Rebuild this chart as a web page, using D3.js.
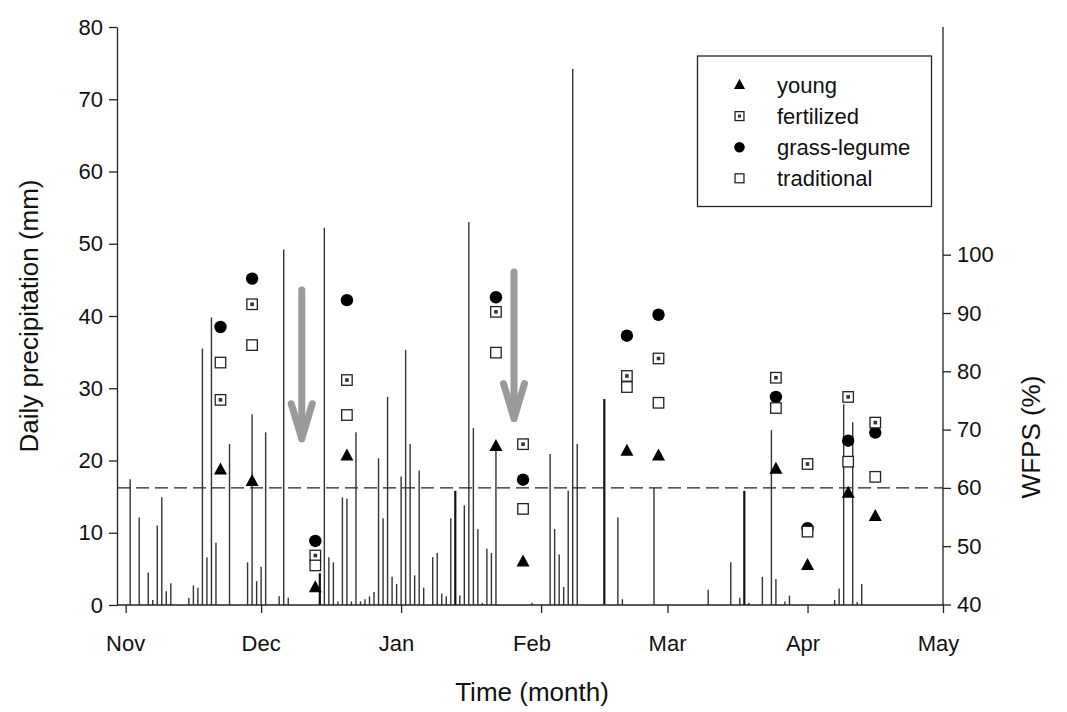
<!DOCTYPE html>
<html>
<head>
<meta charset="utf-8">
<script src="https://cdn.jsdelivr.net/npm/d3@7"></script>
<style>
body { margin: 0; background: #fff; }
text { font-family: Arial, "Liberation Sans", sans-serif; fill: #111; }
</style>
</head>
<body>
<div id="chart"></div>
<script>
// daily rain
var rainDates = ["2009-11-02","2009-11-04","2009-11-06","2009-11-07","2009-11-08","2009-11-09","2009-11-10","2009-11-11",
  "2009-11-15","2009-11-16","2009-11-17","2009-11-18","2009-11-19","2009-11-20","2009-11-21","2009-11-24","2009-11-28",
  "2009-11-29","2009-11-30","2009-12-01","2009-12-02","2009-12-05","2009-12-06","2009-12-07","2009-12-14","2009-12-15",
  "2009-12-16","2009-12-17","2009-12-18","2009-12-19","2009-12-20","2009-12-21","2009-12-22","2009-12-23","2009-12-24",
  "2009-12-25","2009-12-26","2009-12-27","2009-12-28","2009-12-29","2009-12-30","2009-12-31","2010-01-01","2010-01-02",
  "2010-01-03","2010-01-04","2010-01-05","2010-01-06","2010-01-08","2010-01-09","2010-01-10","2010-01-11","2010-01-12",
  "2010-01-13","2010-01-14","2010-01-15","2010-01-16","2010-01-17","2010-01-18","2010-01-19","2010-01-20","2010-01-21",
  "2010-01-22","2010-01-30","2010-02-03","2010-02-04","2010-02-05","2010-02-06","2010-02-07","2010-02-08","2010-02-09",
  "2010-02-15","2010-02-18","2010-02-19","2010-02-26","2010-03-10","2010-03-15","2010-03-17","2010-03-18","2010-03-19",
  "2010-03-22","2010-03-24","2010-03-25","2010-03-27","2010-03-28","2010-04-07","2010-04-08","2010-04-09","2010-04-11",
  "2010-04-12","2010-04-13"];
var rainMm = [17.4,12.1,4.5,0.7,11.0,14.9,1.9,3.0,
  1.0,2.7,2.4,35.5,6.6,39.8,8.6,22.3,5.9,
  26.4,3.3,5.3,23.9,1.2,49.2,1.0,4.4,52.2,
  6.6,5.9,0.5,14.9,14.7,0.5,23.9,0.5,0.8,
  1.2,1.8,20.3,12.0,28.8,3.9,2.9,17.8,35.3,
  22.3,4.1,18.6,2.4,6.6,7.2,1.6,1.2,12.0,
  15.8,1.3,13.8,53.0,24.5,10.5,0.3,7.8,7.2,
  21.5,0.3,20.9,10.5,7.0,2.5,15.8,74.2,22.3,
  28.5,12.1,0.8,16.2,2.1,5.9,1.0,15.8,0.3,
  3.9,24.2,3.6,0.5,1.3,0.7,2.3,27.8,25.3,
  0.4,2.9];
// these days print darker in the figure
var heavyDates = ["2009-12-14","2010-01-13","2010-02-15","2010-03-18"];

// WFPS sampling dates and values (%)
var sampleDates = ["2009-11-22","2009-11-29","2009-12-13","2009-12-20","2010-01-22","2010-01-28",
  "2010-02-20","2010-02-27","2010-03-25","2010-04-01","2010-04-10","2010-04-16"];
var young       = [63.1, 61.1, 42.9, 65.5, 67.1, 47.3, 66.3, 65.5, 63.2, 46.7, 59.1, 55.1];
var fertilized  = [75.1, 91.5, 48.4, 78.5, 90.2, 67.5, 79.2, 82.2, 78.9, 64.1, 75.6, 71.2];
var grassLegume = [87.6, 95.9, 50.9, 92.2, 92.7, 61.4, 86.1, 89.7, 75.6, 53.1, 68.1, 69.5];
var traditional = [81.5, 84.5, 46.7, 72.5, 83.2, 56.4, 77.3, 74.6, 73.7, 52.5, 64.5, 61.9];

var seriesNames = ["young", "fertilized", "grass-legume", "traditional"];
var monthDates = ["2009-11-01","2009-12-01","2010-01-01","2010-02-01","2010-03-01","2010-04-01","2010-05-01"];
// labels sit every 30 days from Nov 1, not on the month ticks
var labelDates = ["2009-11-01","2009-12-01","2009-12-31","2010-01-30","2010-03-01","2010-03-31","2010-04-30"];
var monthLabels = ["Nov","Dec","Jan","Feb","Mar","Apr","May"];
var rainTicks = [0,10,20,30,40,50,60,70,80];
var wfpsTicks = [40,50,60,70,80,90,100];
var wfpsLimit = 60;
// grey arrows (date, start mm, tip mm)
var arrowDates = ["2009-12-10","2010-01-26"];
var arrowFrom = [43.6, 46.1];
var arrowTo = [22.6, 25.4];

var parse = d3.utcParse("%Y-%m-%d");
var svgWidth = 1067, svgHeight = 712;
var plot = { left: 117, right: 943, top: 27, bottom: 605 };

var svg = d3.select("#chart").append("svg")
  .attr("width", svgWidth)
  .attr("height", svgHeight);

var x = d3.scaleUtc()
  .domain([new Date(Date.UTC(2009, 9, 30, 2)), parse("2010-05-01")])
  .range([plot.left, plot.right]);
var yRain = d3.scaleLinear().domain([0, 80]).range([plot.bottom, plot.top]);
var yWfps = d3.scaleLinear().domain([40, 100]).range([604.5, 254.7]);

// right frame line
svg.append("line")
  .attr("x1", plot.right).attr("x2", plot.right)
  .attr("y1", plot.top).attr("y2", plot.bottom)
  .attr("stroke", "#222").attr("stroke-width", 1.3);

// rain bars
svg.append("g").selectAll("line")
  .data(rainDates)
  .enter().append("line")
  .attr("x1", d => x(parse(d)))
  .attr("x2", d => x(parse(d)))
  .attr("y1", yRain(0))
  .attr("y2", (d, i) => yRain(rainMm[i]))
  .attr("stroke", d => heavyDates.includes(d) ? "#111" : "#333")
  .attr("stroke-width", d => heavyDates.includes(d) ? 2.2 : 1.4);

// 60 % WFPS line
svg.append("line")
  .attr("x1", plot.left).attr("x2", plot.right)
  .attr("y1", yWfps(wfpsLimit)).attr("y2", yWfps(wfpsLimit))
  .attr("stroke", "#222").attr("stroke-width", 1.3)
  .attr("stroke-dasharray", "13,6");

// arrows
arrowDates.forEach(function(d, i) {
  var ax = x(parse(d));
  var y0 = yRain(arrowFrom[i]), y1 = yRain(arrowTo[i]);
  var g = svg.append("g")
    .attr("stroke", "#9a9a9a").attr("stroke-width", 7)
    .attr("stroke-linecap", "round").attr("stroke-linejoin", "round")
    .attr("fill", "none");
  g.append("line").attr("x1", ax).attr("x2", ax).attr("y1", y0).attr("y2", y1 - 3);
  g.append("polyline")
    .attr("points", [[ax - 10.5, y1 - 38], [ax, y1 - 3], [ax + 10.5, y1 - 38]].join(" "));
});

// axes
var xAxis = d3.axisBottom(x)
  .tickValues(monthDates.map(parse))
  .tickFormat("")
  .tickSize(8).tickSizeOuter(0);
var gx = svg.append("g").attr("transform", `translate(0, ${plot.bottom})`).call(xAxis);
gx.select(".domain").attr("d", `M${plot.left},0H${plot.right}`);
gx.selectAll(".monthLabel")
  .data(labelDates)
  .enter().append("text")
  .attr("class", "monthLabel")
  .attr("x", d => x(parse(d)))
  .attr("y", 46)
  .attr("text-anchor", "middle")
  .text((d, i) => monthLabels[i]);

var gl = svg.append("g").attr("transform", `translate(${plot.left}, 0)`)
  .call(d3.axisLeft(yRain).tickValues(rainTicks).tickSize(8).tickSizeOuter(0).tickPadding(6));
var gr = svg.append("g").attr("transform", `translate(${plot.right}, 0)`)
  .call(d3.axisRight(yWfps).tickValues(wfpsTicks).tickSize(8).tickSizeOuter(0).tickPadding(6));
gr.select(".domain").remove();

[gx, gl, gr].forEach(function(g) {
  g.selectAll("text").style("font-size", "22px").style("fill", "#111").attr("font-family", null);
  g.selectAll("line, path").attr("stroke", "#222").attr("stroke-width", 1.3);
});

// markers
function drawMarker(g, type, cx, cy, s) {
  if (type === "young") {
    var h = 12 * s, w = 13 * s;
    g.append("path")
      .attr("d", `M${cx},${cy - h * 0.62}L${cx + w / 2},${cy + h * 0.38}L${cx - w / 2},${cy + h * 0.38}Z`)
      .attr("fill", "#000");
  } else if (type === "grass-legume") {
    g.append("circle").attr("cx", cx).attr("cy", cy).attr("r", 6.2 * s).attr("fill", "#000");
  } else {
    var a = 10.5 * s;
    g.append("rect").attr("x", cx - a / 2).attr("y", cy - a / 2)
      .attr("width", a).attr("height", a)
      .attr("fill", "#fff").attr("stroke", "#222").attr("stroke-width", 1.3);
    if (type === "fertilized") {
      g.append("rect").attr("x", cx - 1.8 * s).attr("y", cy - 1.8 * s)
        .attr("width", 3.6 * s).attr("height", 3.6 * s).attr("fill", "#333");
    }
  }
}

var seriesValues = { "young": young, "fertilized": fertilized, "grass-legume": grassLegume, "traditional": traditional };
var drawOrder = ["grass-legume", "young", "fertilized", "traditional"];
var pts = svg.append("g");
drawOrder.forEach(function(name) {
  sampleDates.forEach(function(d, i) {
    drawMarker(pts, name, x(parse(d)), yWfps(seriesValues[name][i]), 1);
  });
});

// legend
var legend = svg.append("g");
legend.append("rect")
  .attr("x", 697.5).attr("y", 56).attr("width", 234).attr("height", 150.5)
  .attr("fill", "#fff").attr("stroke", "#222").attr("stroke-width", 1.3);
seriesNames.forEach(function(name, i) {
  var ly = 85 + i * 31.1;
  drawMarker(legend, name, 739.5, ly, 0.85);
  legend.append("text")
    .attr("x", 777).attr("y", ly + 8)
    .style("font-size", "22px")
    .text(name);
});

// axis titles
svg.append("text")
  .attr("transform", "translate(38, 316) rotate(-90)")
  .attr("text-anchor", "middle")
  .style("font-size", "26px")
  .text("Daily precipitation (mm)");
svg.append("text")
  .attr("transform", "translate(1040, 437) rotate(-90)")
  .attr("text-anchor", "middle")
  .style("font-size", "26px")
  .text("WFPS (%)");
svg.append("text")
  .attr("x", 532).attr("y", 701)
  .attr("text-anchor", "middle")
  .style("font-size", "26px")
  .text("Time (month)");
</script>
</body>
</html>
